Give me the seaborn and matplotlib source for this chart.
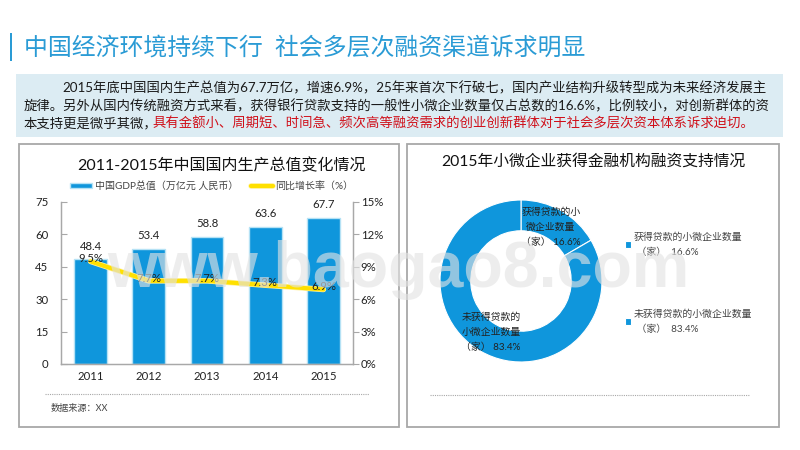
import matplotlib
matplotlib.use("Agg")
import matplotlib.pyplot as plt
from matplotlib.patches import Rectangle
from matplotlib.lines import Line2D
import matplotlib.patheffects as pe
import seaborn as sns
import pandas as pd

years = ["2011", "2012", "2013", "2014", "2015"]
gdp = [48.4, 53.4, 58.8, 63.6, 67.7]
growth = [9.5, 7.7, 7.7, 7.3, 6.9]
gdp_ticks = [0, 15, 30, 45, 60, 75]
growth_ticks = [0, 3, 6, 9, 12, 15]
donut_labels = ["获得贷款的小\n微企业数量\n（家） 16.6%", "未获得贷款的\n小微企业数量\n（家） 83.4%"]
donut_legend = ["获得贷款的小微企业数量\n （家）  16.6%", "未获得贷款的小微企业数量\n （家）  83.4%"]
donut_values = [16.6, 83.4]
main_title = "中国经济环境持续下行  社会多层次融资渠道诉求明显"
body_1 = "2015年底中国国内生产总值为67.7万亿，增速6.9%，25年来首次下行破七，国内产业结构升级转型成为未来经济发展主"
body_2 = "旋律。另外从国内传统融资方式来看，获得银行贷款支持的一般性小微企业数量仅占总数的16.6%，比例较小，对创新群体的资"
body_3a = "本支持更是微乎其微，"
body_3b = "具有金额小、周期短、时间急、频次高等融资需求的创业创新群体对于社会多层次资本体系诉求迫切。"
left_title = "2011-2015年中国国内生产总值变化情况"
right_title = "2015年小微企业获得金融机构融资支持情况"
legend_names = ["中国GDP总值（万亿元 人民币）", "同比增长率（%）"]
source = "数据来源：XX"
watermark = "www.baogao8.com"

sns.set_style("white")
plt.rcParams["font.family"] = ["Lato", "Noto Sans CJK SC", "DejaVu Sans"]

W, H = 800, 450
BLUE = "#0f96dc"
fig = plt.figure(figsize=(W / 100, H / 100), dpi=100, facecolor="white")


def fx(x):
    return x / W


def fy(y):
    return 1 - y / H


def rect_axes(x0, y0, x1, y1):
    return fig.add_axes([fx(x0), fy(y1), (x1 - x0) / W, (y1 - y0) / H], facecolor="none")


def txt(x, y, s, size, color="#222222", ha="left", va="center", **kw):
    return fig.text(fx(x), fy(y), s, fontsize=size, color=color, ha=ha, va=va, **kw)


def box(x0, y0, x1, y1, fc="none", ec="none", lw=1.0):
    fig.add_artist(Rectangle((fx(x0), fy(y1)), (x1 - x0) / W, (y1 - y0) / H, transform=fig.transFigure,
                             facecolor=fc, edgecolor=ec, linewidth=lw, zorder=-5))


# slide furniture
box(10, 33, 12, 61, fc="#2a9bd5")
txt(24, 47, main_title, 17.2, color="#2a9bd5")
box(16, 74, 783, 137, fc="#dcecf3")
txt(62, 88, body_1, 9.6, color="#1a1a1a")
txt(24, 106, body_2, 9.6, color="#1a1a1a")
txt(24, 123, body_3a, 9.6, color="#1a1a1a")
txt(153, 123, body_3b, 9.6, color="#d0101a")

box(19, 144, 399, 427, ec="#a8a8a8", lw=1.3)
box(407, 144, 779, 427, ec="#a8a8a8", lw=1.3)
fig.add_artist(Line2D([fx(45), fx(369)], [fy(394), fy(394)], color="#a8a8a8", lw=0.8, ls=(0, (1, 1))))
fig.add_artist(Line2D([fx(430), fx(749)], [fy(395), fy(395)], color="#a8a8a8", lw=0.8, ls=(0, (1, 1))))
txt(51, 408, source, 6.6, color="#444444")
txt(221, 166, left_title, 11.5, ha="center", color="#111111")
txt(593, 161, right_title, 11.35, ha="center", color="#111111")

# combo chart
df = pd.DataFrame({"year": years, "gdp": gdp, "growth": growth})
ax = rect_axes(61, 202, 353, 364)
sns.barplot(data=df, x="year", y="gdp", color=BLUE, saturation=1, width=0.56, ax=ax,
            edgecolor="#b5e2f5", linewidth=1.0, label=legend_names[0])
ax.set_ylim(gdp_ticks[0], gdp_ticks[-1])
ax.set_yticks(gdp_ticks)
ax.set_xlabel("")
ax.set_ylabel("")
ax.tick_params(axis="y", direction="in", length=4, width=0.8, color="#a8a8a8", labelsize=8.2,
               labelcolor="#222222", pad=9)
ax.tick_params(axis="x", length=0, labelsize=8.2, labelcolor="#222222", pad=5)
for i, v in enumerate(gdp):
    ax.annotate(f"{v:.1f}", (i, v), xytext=(0, 9.5), textcoords="offset points", ha="center", va="center",
                fontsize=8.2, color="#222222", annotation_clip=False)

ax2 = ax.twinx()
ax2.set_facecolor("none")
sns.lineplot(data=df, x="year", y="growth", color="#ffe000", lw=3.0, ax=ax2, label=legend_names[1], legend=False,
             path_effects=[pe.Stroke(linewidth=4.0, foreground="#fff2a0"), pe.Normal()])
ax2.set_ylim(growth_ticks[0], growth_ticks[-1])
ax2.set_yticks(growth_ticks)
ax2.set_yticklabels([f"{t}%" for t in growth_ticks])
ax2.set_xlabel("")
ax2.set_ylabel("")
ax2.tick_params(axis="y", direction="out", length=4, width=0.8, color="#a8a8a8", labelsize=8.2,
                labelcolor="#222222", pad=1.5)
for i, v in enumerate(growth):
    ax2.annotate(f"{v:.1f}%", (i, v), xytext=(0, 2), textcoords="offset points", ha="center", va="center",
                 fontsize=8.2, color="#222222")
for a in (ax, ax2):
    a.spines["top"].set_visible(False)
    for s in ("left", "right", "bottom"):
        a.spines[s].set_visible(True)
        a.spines[s].set_color("#a8a8a8")
        a.spines[s].set_linewidth(0.9)

h1, l1 = ax.get_legend_handles_labels()
h2, l2 = ax2.get_legend_handles_labels()
if ax.get_legend() is not None:
    ax.get_legend().remove()
fig.legend(h1 + h2, l1 + l2, loc="center", bbox_to_anchor=(fx(212), fy(186)), ncol=2, frameon=False,
           fontsize=7.2, handlelength=2.2, handleheight=0.45, columnspacing=1.3, handletextpad=0.25,
           labelcolor="#444444")

# donut
axd = rect_axes(440, 200, 602, 362)
wedges, _ = axd.pie(donut_values, startangle=90, counterclock=False, radius=1.0, colors=[BLUE, BLUE],
                    wedgeprops=dict(width=0.38, edgecolor="white", linewidth=0.8))
axd.set_xlim(-1, 1)
axd.set_ylim(-1, 1)
for p in axd.patches:
    p.set_clip_on(False)
txt(551, 227, donut_labels[0], 7.1, ha="center", color="#222222", linespacing=1.8)
txt(491, 332, donut_labels[1], 7.1, ha="center", color="#222222", linespacing=1.8)
fig.legend(wedges, donut_legend, loc="upper left", bbox_to_anchor=(fx(625), fy(232)), frameon=False,
           fontsize=7.1, handlelength=0.6, handleheight=0.6, handletextpad=0.3, labelspacing=5.3,
           labelcolor="#444444", borderpad=0, borderaxespad=0, alignment="left")
for t in fig.legends[-1].get_texts():
    t.set_linespacing(1.8)

fig.text(fx(107), fy(287), watermark, fontsize=46.5, fontweight="bold", family="Liberation Sans",
         color="#e3e3e3", alpha=0.62, ha="left", va="baseline", zorder=20)

fig.savefig("out.png", dpi=100)
